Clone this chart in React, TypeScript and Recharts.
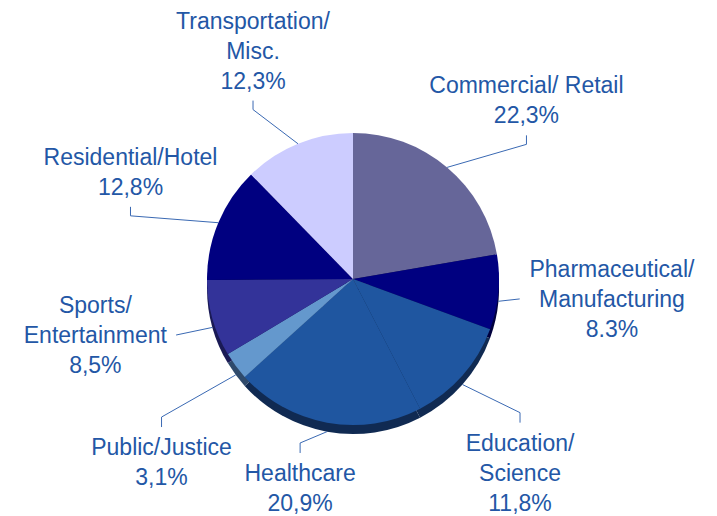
import { PieChart, Pie, Cell } from "recharts";

// clockwise from 12 o'clock
const sectors = [
  "Commercial/ Retail",
  "Pharmaceutical/ Manufacturing",
  "Education/ Science",
  "Healthcare",
  "Public/Justice",
  "Sports/ Entertainment",
  "Residential/Hotel",
  "Transportation/ Misc.",
];
const shares = [22.3, 8.3, 11.8, 20.9, 3.1, 8.5, 12.8, 12.3];
const shareLabels = ["22,3%", "8.3%", "11,8%", "20,9%", "3,1%", "8,5%", "12,8%", "12,3%"];
const nameLines = [
  ["Commercial/ Retail"],
  ["Pharmaceutical/", "Manufacturing"],
  ["Education/", "Science"],
  ["Healthcare"],
  ["Public/Justice"],
  ["Sports/", "Entertainment"],
  ["Residential/Hotel"],
  ["Transportation/", "Misc."],
];

const data = sectors.map((name, i) => ({ name, value: shares[i] }));

// styling
const faceColors = ["#666699", "#000080", "#1f56a0", "#1f56a0", "#6498cd", "#333399", "#000080", "#ccccff"];
const sideColors = ["#2e2e48", "#00003d", "#102a52", "#102a52", "#2f4a6b", "#1a1a55", "#000040", "#5c5c7a"];
const labelNudge = [
  [11, 14], [8, -3], [-22, 27], [-8, -39], [11, 33], [-15, -12], [10, -10], [-5, 5],
];
const leaderKind = ["top", "side", "bottom", "bottom", "bottom", "side", "top", "top"];

const CX = 353;
const CY = 279;
const R = 146;
const DEPTH = 9;
const LABEL_R = 252;
const LINE_H = 30;
const FONT = 23;
const TEXT_COLOR = "#2357a6";
const RAD = Math.PI / 180;

function renderLabel(props: any) {
  const { cx, cy, midAngle, outerRadius, index } = props;
  const cos = Math.cos(-midAngle * RAD);
  const sin = Math.sin(-midAngle * RAD);
  const [nx, ny] = labelNudge[index];
  const lx = cx + LABEL_R * cos + nx;
  const ly = cy + LABEL_R * sin + ny;
  const lines = [...nameLines[index], shareLabels[index]];
  const n = lines.length;
  const first = ly - ((n - 1) / 2) * LINE_H;
  const last = ly + ((n - 1) / 2) * LINE_H;
  const sx = cx + outerRadius * cos;
  const sy = cy + outerRadius * sin + (sin > 0 ? DEPTH : 0);

  let d = "";
  const kind = leaderKind[index];
  if (kind === "top") {
    d = `M${sx},${sy}L${lx},${last + 29}L${lx},${last + 20}`;
  } else if (kind === "bottom") {
    d = `M${sx},${sy}L${lx},${first - 30}L${lx},${first - 20}`;
  } else {
    const maxLen = Math.max(...lines.map((l) => l.length));
    const halfW = (maxLen * FONT * 0.5) / 2;
    const ex = lx - Math.sign(cos) * (halfW + 6);
    d = `M${sx},${sy}L${ex},${ly}`;
  }

  return (
    <g>
      <path d={d} stroke="#3a69b3" strokeWidth={1} fill="none" />
      <text
        x={lx}
        y={first}
        textAnchor="middle"
        fill={TEXT_COLOR}
        fontSize={FONT}
        fontFamily="'Liberation Sans', Arial, sans-serif"
      >
        {lines.map((l, i) => (
          <tspan key={i} x={lx} y={first + i * LINE_H} dominantBaseline="central">
            {l}
          </tspan>
        ))}
      </text>
    </g>
  );
}

export default function App() {
  return (
    <div style={{ position: "absolute", left: 0, top: 0, background: "#fff" }}>
      <PieChart width={717} height={516} margin={{ top: 0, right: 0, bottom: 0, left: 0 }}>
        <Pie
          data={data}
          dataKey="value"
          cx={CX}
          cy={CY + DEPTH}
          outerRadius={R}
          startAngle={90}
          endAngle={-270}
          stroke="none"
          label={false}
          labelLine={false}
          isAnimationActive={false}
        >
          {data.map((d, i) => (
            <Cell key={d.name} fill={sideColors[i]} stroke="none" />
          ))}
        </Pie>
        <Pie
          data={data}
          dataKey="value"
          cx={CX}
          cy={CY}
          outerRadius={R}
          startAngle={90}
          endAngle={-270}
          stroke="none"
          label={renderLabel}
          labelLine={false}
          isAnimationActive={false}
        >
          {data.map((d, i) => (
            <Cell key={d.name} fill={faceColors[i]} stroke="none" />
          ))}
        </Pie>
      </PieChart>
    </div>
  );
}
